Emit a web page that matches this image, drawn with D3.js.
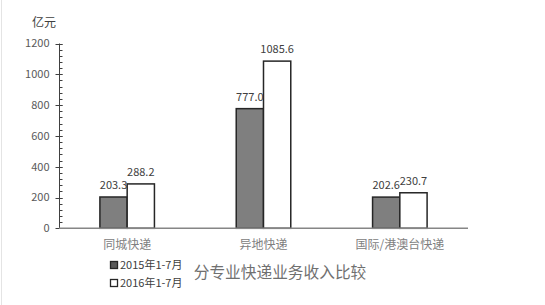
<!DOCTYPE html>
<html>
<head>
<meta charset="utf-8">
<script src="https://cdn.jsdelivr.net/npm/d3@7"></script>
<style>
  body { margin: 0; background: #fff; }
  text { font-family: "Noto Sans CJK SC", "Noto Sans", sans-serif; }
</style>
</head>
<body>
<div id="chart"></div>
<script>
// chart data
const categories = ["同城快递", "异地快递", "国际/港澳台快递"];
const seriesNames = ["2015年1-7月", "2016年1-7月"];
const values2015 = [203.3, 777.0, 202.6];
const values2016 = [288.2, 1085.6, 230.7];
const yTicks = [0, 200, 400, 600, 800, 1000, 1200];

const width = 545, height = 305;
const fills = ["#7f7f7f", "#ffffff"];

const svg = d3.select("#chart")
    .append("svg")
    .attr("width", width)
    .attr("height", height);

svg.append("rect")
    .attr("width", width).attr("height", height)
    .attr("fill", "#fff");

// faint left border
svg.append("line")
    .attr("x1", 1.5).attr("x2", 1.5).attr("y1", 0).attr("y2", height)
    .attr("stroke", "#e4e4e4");

const xScale = d3.scaleBand().domain(categories).range([59, 468]);
const yScale = d3.scaleLinear().domain([0, 1200]).range([228.3, 43.5]);
const xScale2 = d3.scaleBand()
    .domain(seriesNames)
    .range([xScale.bandwidth() * 0.3, xScale.bandwidth() * 0.7]);

// y axis
const yAxis = svg.append("g")
    .attr("transform", "translate(59.5,0)");
yAxis.append("line")
    .attr("y1", yScale(0)).attr("y2", yScale(1200))
    .attr("stroke", "#404040");
yAxis.selectAll(".minor")
    .data(d3.range(0, 1201, 40))
    .join("line")
    .attr("class", "minor")
    .attr("x1", 0).attr("x2", 3)
    .attr("y1", d => Math.round(yScale(d)) + 0.5)
    .attr("y2", d => Math.round(yScale(d)) + 0.5)
    .attr("stroke", "#404040");
yAxis.selectAll(".major")
    .data(yTicks)
    .join("line")
    .attr("class", "major")
    .attr("x1", -4).attr("x2", 3)
    .attr("y1", d => Math.round(yScale(d)) + 0.5)
    .attr("y2", d => Math.round(yScale(d)) + 0.5)
    .attr("stroke", "#404040");
yAxis.selectAll(".tl")
    .data(yTicks)
    .join("text")
    .attr("class", "tl")
    .attr("x", -10)
    .attr("y", d => yScale(d))
    .attr("dy", "0.35em")
    .attr("text-anchor", "end")
    .attr("font-size", "11px")
    .attr("font-family", "Lato, sans-serif")
    .attr("fill", "#595959")
    .text(d => d);

// bars
const rows = categories.map((c, i) => ({cat: c, vals: [values2015[i], values2016[i]]}));
const groups = svg.append("g")
    .selectAll("g")
    .data(rows)
    .join("g")
    .attr("transform", d => `translate(${xScale(d.cat)},0)`);

groups.selectAll("rect")
    .data(d => d.vals.map((v, j) => ({key: seriesNames[j], value: v, j: j})))
    .join("rect")
    .attr("x", d => xScale2(d.key))
    .attr("y", d => yScale(d.value))
    .attr("width", xScale2.bandwidth())
    .attr("height", d => yScale(0) - yScale(d.value))
    .attr("fill", d => fills[d.j])
    .attr("stroke", "#262626")
    .attr("stroke-width", 1.5);

groups.selectAll(".val")
    .data(d => d.vals.map((v, j) => ({key: seriesNames[j], value: v})))
    .join("text")
    .attr("class", "val")
    .attr("x", d => xScale2(d.key) + xScale2.bandwidth() / 2)
    .attr("y", d => yScale(d.value) - 8)
    .attr("text-anchor", "middle")
    .attr("font-size", "11px")
    .attr("font-family", "Lato, sans-serif")
    .attr("fill", "#404040")
    .text(d => d.value.toFixed(1));

// x axis
svg.append("line")
    .attr("x1", 59).attr("x2", 468)
    .attr("y1", yScale(0)).attr("y2", yScale(0))
    .attr("stroke", "#868686")
    .attr("stroke-width", 1.5);

svg.append("g")
    .selectAll("text")
    .data(categories)
    .join("text")
    .attr("x", d => xScale(d) + xScale.bandwidth() / 2)
    .attr("y", 245)
    .attr("dy", "0.35em")
    .attr("text-anchor", "middle")
    .attr("font-size", "12px")
    .attr("fill", "#808080")
    .text(d => d);

// unit label
svg.append("text")
    .attr("x", 32).attr("y", 23)
    .attr("dy", "0.35em")
    .attr("font-size", "12px")
    .attr("fill", "#404040")
    .text("亿元");

// legend
const legend = svg.append("g")
    .selectAll("g")
    .data(seriesNames)
    .join("g")
    .attr("transform", (d, i) => `translate(110,${265 + i * 18})`);
legend.append("rect")
    .attr("x", 0.5).attr("y", -3.5)
    .attr("width", 7).attr("height", 7)
    .attr("fill", (d, i) => i === 0 ? "#595959" : "#fff")
    .attr("stroke", "#262626")
    .attr("stroke-width", 1.3);
legend.append("text")
    .attr("x", 10)
    .attr("dy", "0.35em")
    .attr("font-size", "11px")
    .attr("fill", "#404040")
    .text(d => d);

// title
svg.append("text")
    .attr("x", 280).attr("y", 273)
    .attr("dy", "0.35em")
    .attr("text-anchor", "middle")
    .attr("font-size", "15.7px")
    .attr("fill", "#707070")
    .text("分专业快递业务收入比较");
</script>
</body>
</html>
